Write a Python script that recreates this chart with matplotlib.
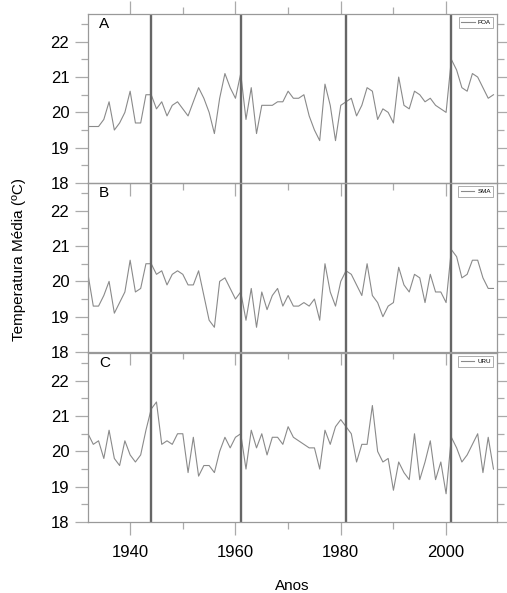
import numpy as np
import matplotlib
matplotlib.use("Agg")
import matplotlib.pyplot as plt
from matplotlib.ticker import MultipleLocator

plt.rcParams["font.family"] = ["Liberation Sans", "DejaVu Sans"]

years = list(range(1932, 2010))

poa = [19.6, 19.6, 19.6, 19.8, 20.3, 19.5, 19.7, 20.0, 20.6, 19.7,
       19.7, 20.5, 20.5, 20.1, 20.3, 19.9, 20.2, 20.3, 20.1, 19.9,
       20.3, 20.7, 20.4, 20.0, 19.4, 20.4, 21.1, 20.7, 20.4, 21.1,
       19.8, 20.7, 19.4, 20.2, 20.2, 20.2, 20.3, 20.3, 20.6, 20.4,
       20.4, 20.5, 19.9, 19.5, 19.2, 20.8, 20.2, 19.2, 20.2, 20.3,
       20.4, 19.9, 20.2, 20.7, 20.6, 19.8, 20.1, 20.0, 19.7, 21.0,
       20.2, 20.1, 20.6, 20.5, 20.3, 20.4, 20.2, 20.1, 20.0, 21.5,
       21.2, 20.7, 20.6, 21.1, 21.0, 20.7, 20.4, 20.5]

sma = [20.2, 19.3, 19.3, 19.6, 20.0, 19.1, 19.4, 19.7, 20.6, 19.7,
       19.8, 20.5, 20.5, 20.2, 20.3, 19.9, 20.2, 20.3, 20.2, 19.9,
       19.9, 20.3, 19.6, 18.9, 18.7, 20.0, 20.1, 19.8, 19.5, 19.7,
       18.9, 19.8, 18.7, 19.7, 19.2, 19.6, 19.8, 19.3, 19.6, 19.3,
       19.3, 19.4, 19.3, 19.5, 18.9, 20.5, 19.7, 19.3, 20.0, 20.3,
       20.2, 19.9, 19.6, 20.5, 19.6, 19.4, 19.0, 19.3, 19.4, 20.4,
       19.9, 19.7, 20.2, 20.1, 19.4, 20.2, 19.7, 19.7, 19.4, 20.9,
       20.7, 20.1, 20.2, 20.6, 20.6, 20.1, 19.8, 19.8]

uru = [20.5, 20.2, 20.3, 19.8, 20.6, 19.8, 19.6, 20.3, 19.9, 19.7,
       19.9, 20.6, 21.2, 21.4, 20.2, 20.3, 20.2, 20.5, 20.5, 19.4,
       20.4, 19.3, 19.6, 19.6, 19.4, 20.0, 20.4, 20.1, 20.4, 20.5,
       19.5, 20.6, 20.1, 20.5, 19.9, 20.4, 20.4, 20.2, 20.7, 20.4,
       20.3, 20.2, 20.1, 20.1, 19.5, 20.6, 20.2, 20.7, 20.9, 20.7,
       20.5, 19.7, 20.2, 20.2, 21.3, 20.0, 19.7, 19.8, 18.9, 19.7,
       19.4, 19.2, 20.5, 19.2, 19.7, 20.3, 19.2, 19.7, 18.8, 20.4,
       20.1, 19.7, 19.9, 20.2, 20.5, 19.4, 20.4, 19.5]

series = [("A", "POA", poa), ("B", "SMA", sma), ("C", "URU", uru)]
breaks = [1944, 1961, 1981, 2001]

fig = plt.figure(figsize=(5.07, 5.93), dpi=100)

left, width = 0.1736, 0.807
height = 0.2858
bottoms = [0.6914, 0.4064, 0.1197]
spine_c = "#999999"
tick_c = "#aaaaaa"

for i, (letter, name, vals) in enumerate(series):
    ax = fig.add_axes([left, bottoms[i], width, height])
    ax.patch.set_alpha(0)
    ax.plot(years, vals, color="#8a8a8a", lw=0.8, label=name)
    for b in breaks:
        ax.axvline(b, color="#666666", lw=1.7)
    ax.set_xlim(1932, 2009.7)
    ax.set_ylim(18, 22.8)
    ax.xaxis.set_major_locator(MultipleLocator(20))
    ax.xaxis.set_minor_locator(MultipleLocator(10))
    ax.yaxis.set_major_locator(MultipleLocator(1))
    ax.yaxis.set_minor_locator(MultipleLocator(0.5))
    for s in ax.spines.values():
        s.set_color(spine_c)
        s.set_linewidth(0.9)
    ax.tick_params(which="both", direction="out", color=tick_c, width=0.9,
                   left=True, right=True, bottom=True, top=(i == 0),
                   labelleft=True, labelright=False,
                   labelbottom=(i == 2), labeltop=False)
    ax.tick_params(which="major", length=9.5)
    ax.tick_params(which="minor", length=5)
    ax.tick_params(axis="y", labelsize=12, pad=4)
    ax.tick_params(axis="x", labelsize=12, pad=7)
    ax.text(0.027, 0.938, letter, transform=ax.transAxes, fontsize=11,
            ha="left", va="center")
    leg = ax.legend(loc="upper right", fontsize=4.5, frameon=True,
                    fancybox=False, handlelength=2.2, borderpad=0.4,
                    borderaxespad=0.6, handletextpad=0.5)
    leg.get_frame().set_edgecolor("#888888")
    leg.get_frame().set_linewidth(0.6)

fig.text(0.037, 0.563, "Temperatura Média (ºC)", rotation=90,
         ha="center", va="center", fontsize=11)
fig.text(0.577, 0.012, "Anos", ha="center", va="center", fontsize=11)

fig.savefig("out.png", dpi=100)
